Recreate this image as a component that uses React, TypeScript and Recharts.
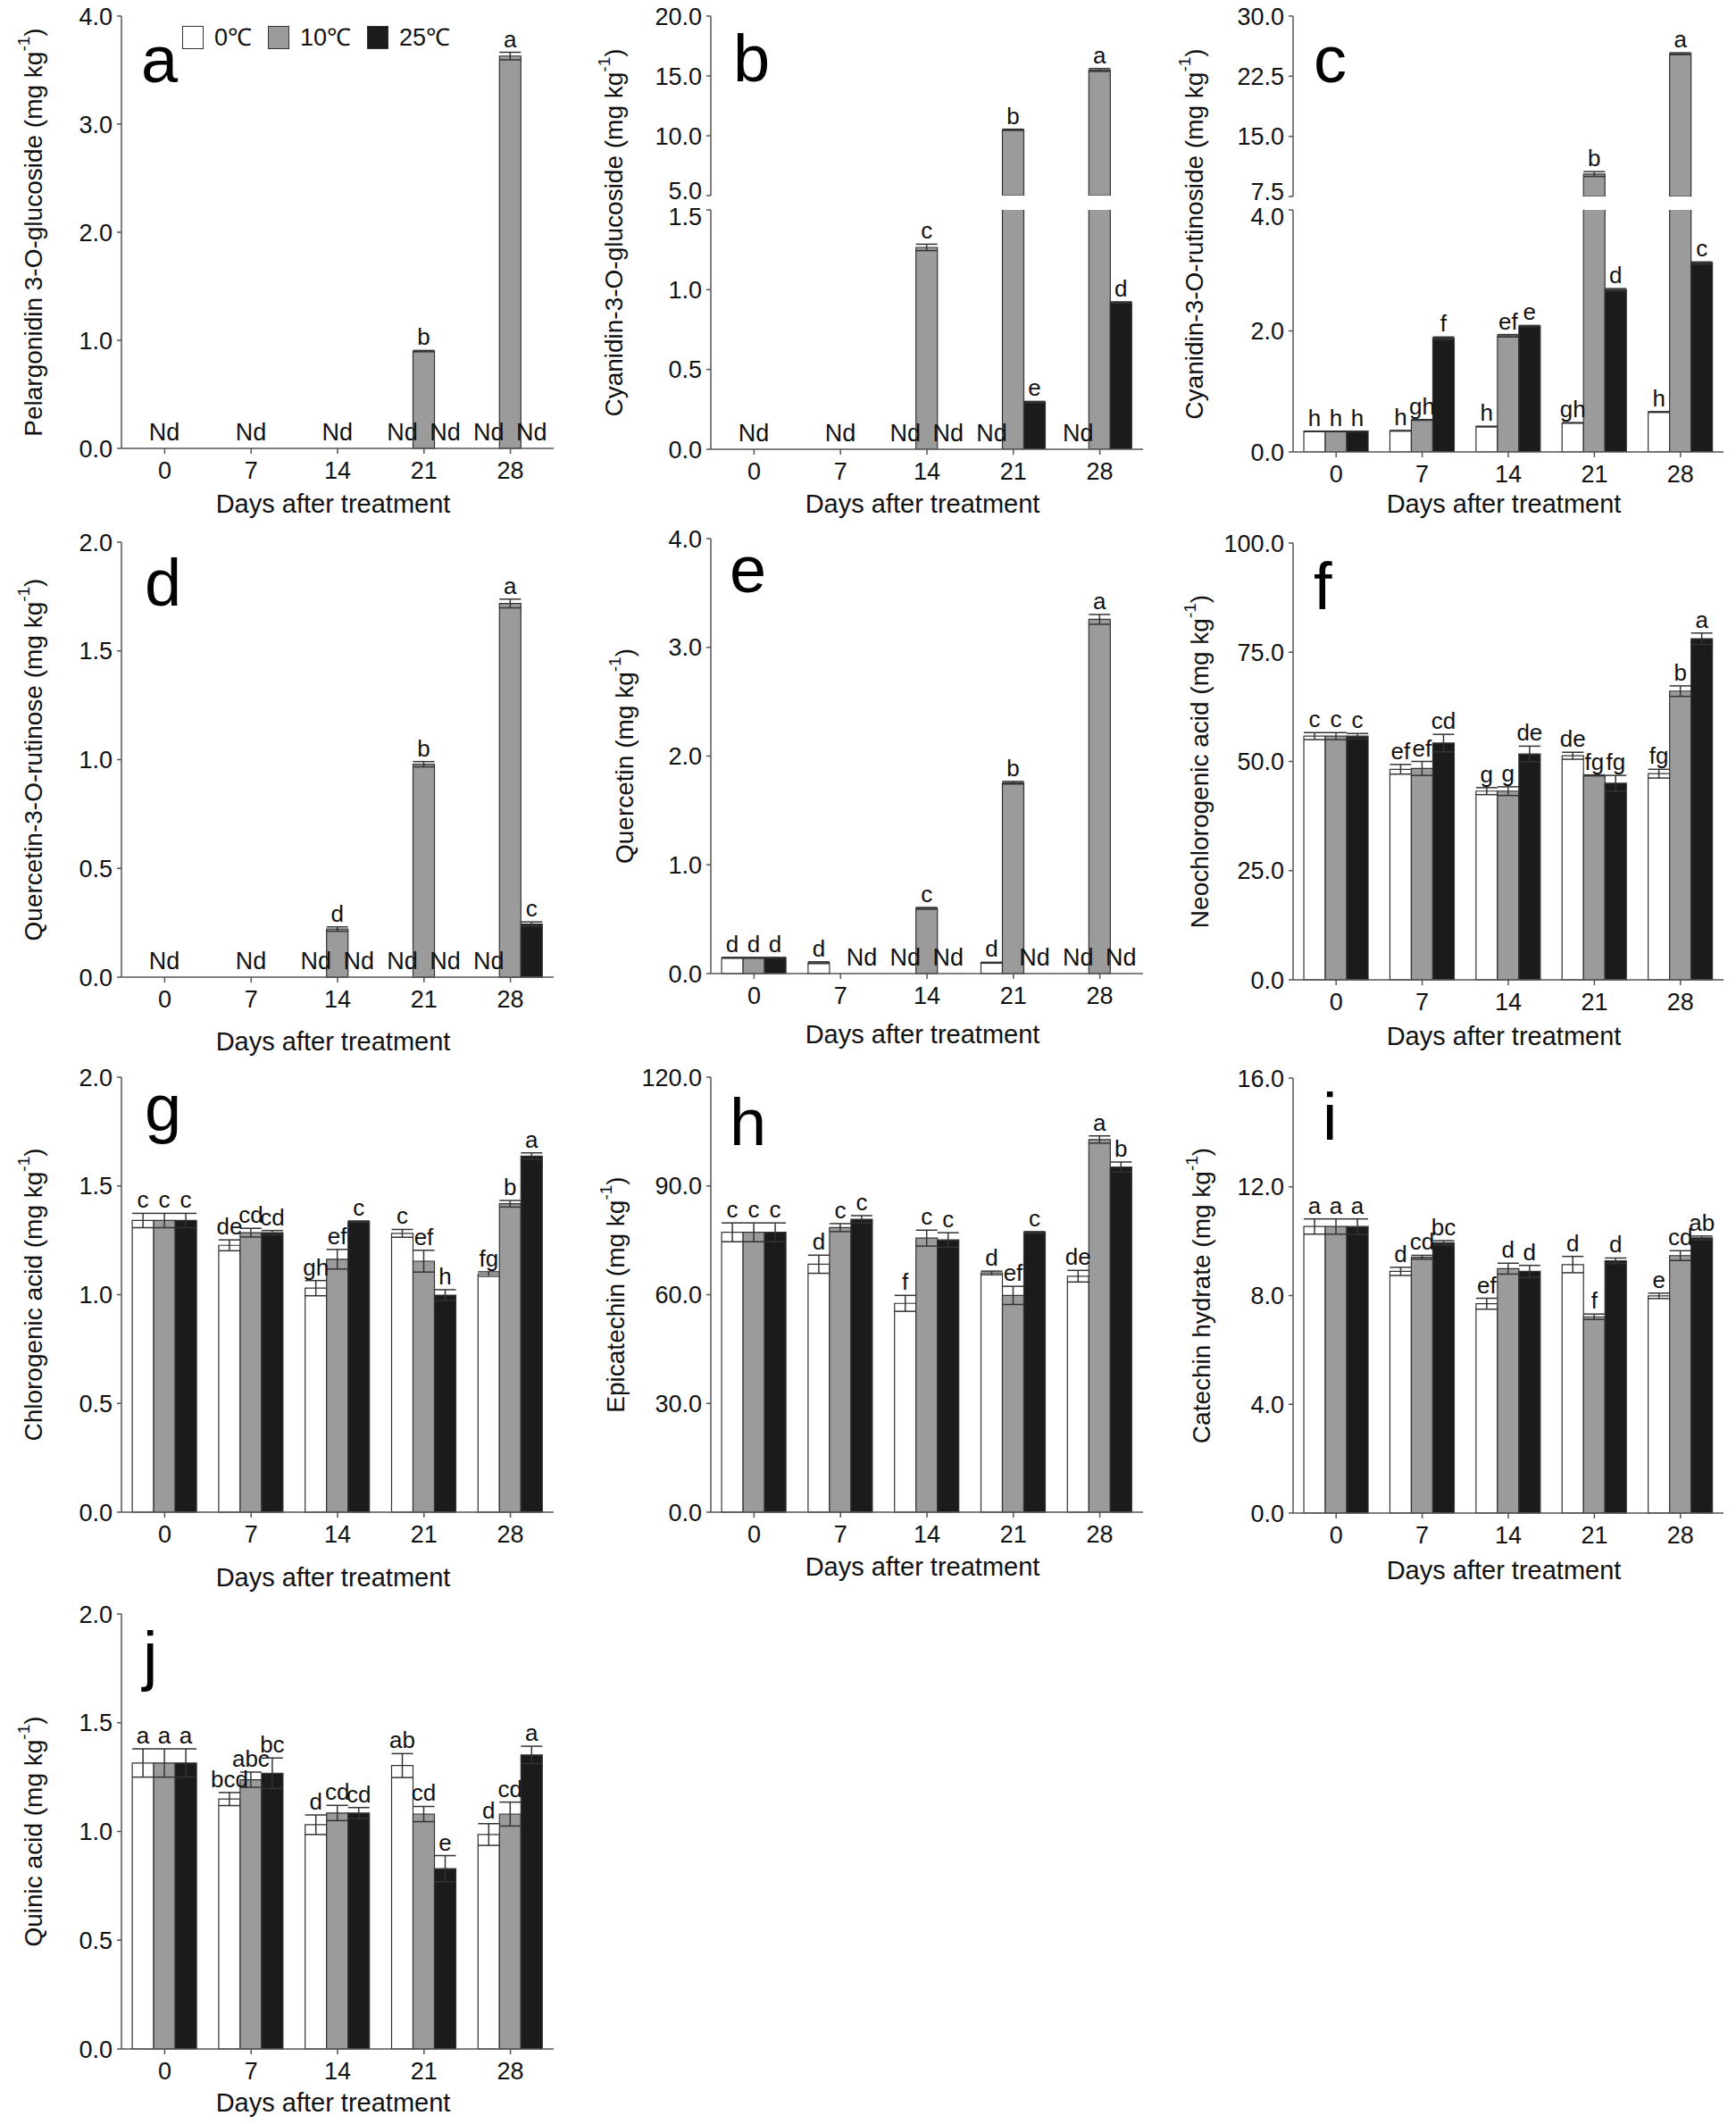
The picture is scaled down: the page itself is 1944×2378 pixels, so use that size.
import React from 'react';
import { BarChart, Bar, XAxis, YAxis, ErrorBar, LabelList, Legend, Cell } from 'recharts';

// ---------------- DATA ----------------
const days = ['0', '7', '14', '21', '28'];
const seriesNames = ['0℃', '10℃', '25℃'];

// a: Pelargonidin 3-O-glucoside
const aValues = [[0, 0, 0, 0, 0], [0, 0, 0, 0.9, 3.63], [0, 0, 0, 0, 0]];
const aErrors = [[0, 0, 0, 0, 0], [0, 0, 0, 0.006, 0.035], [0, 0, 0, 0, 0]];
const aLetters = [['', '', '', 'Nd', 'Nd'], ['Nd', 'Nd', 'Nd', 'b', 'a'], ['', '', '', 'Nd', 'Nd']];
const aTicks = [0, 1, 2, 3, 4];

// b: Cyanidin-3-O-glucoside (broken axis)
const bValues = [[0, 0, 0, 0, 0], [0, 0, 1.265, 10.5, 15.5], [0, 0, 0, 0.296, 0.92]];
const bErrors = [[0, 0, 0, 0, 0], [0, 0, 0.02, 0.05, 0.12], [0, 0, 0, 0.004, 0.004]];
const bLetters = [['', '', 'Nd', 'Nd', 'Nd'], ['Nd', 'Nd', 'c', 'b', 'a'], ['', '', 'Nd', 'e', 'd']];
const bTicksUpper = [5, 10, 15, 20];
const bTicksLower = [0, 0.5, 1, 1.5];

// c: Cyanidin-3-O-rutinoside (broken axis)
const cValues = [[0.34, 0.35, 0.42, 0.48, 0.66], [0.34, 0.53, 1.92, 10.3, 25.3], [0.34, 1.88, 2.08, 2.68, 3.12]];
const cErrors = [[0.004, 0.005, 0.005, 0.005, 0.006], [0.004, 0.006, 0.02, 0.3, 0.12], [0.004, 0.02, 0.01, 0.02, 0.02]];
const cLetters = [['h', 'h', 'h', 'gh', 'h'], ['h', 'gh', 'ef', 'b', 'a'], ['h', 'f', 'e', 'd', 'c']];
const cTicksUpper = [7.5, 15, 22.5, 30];
const cTicksLower = [0, 2, 4];

// d: Quercetin-3-O-rutinose
const dValues = [[0, 0, 0, 0, 0], [0, 0, 0.221, 0.979, 1.718], [0, 0, 0, 0, 0.244]];
const dErrors = [[0, 0, 0, 0, 0], [0, 0, 0.01, 0.012, 0.02], [0, 0, 0, 0, 0.01]];
const dLetters = [['', '', 'Nd', 'Nd', 'Nd'], ['Nd', 'Nd', 'd', 'b', 'a'], ['', '', 'Nd', 'Nd', 'c']];
const dTicks = [0, 0.5, 1, 1.5, 2];

// e: Quercetin
const eValues = [[0.145, 0.1, 0, 0.1, 0], [0.145, 0, 0.6, 1.755, 3.257], [0.145, 0, 0, 0, 0]];
const eErrors = [[0.004, 0.008, 0, 0.004, 0], [0.004, 0, 0.008, 0.012, 0.045], [0.004, 0, 0, 0, 0]];
const eLetters = [['d', 'd', 'Nd', 'd', 'Nd'], ['d', '', 'c', 'b', 'a'], ['d', 'Nd', 'Nd', 'Nd', 'Nd']];
const eTicks = [0, 1, 2, 3, 4];

// f: Neochlorogenic acid
const fValues = [[55.8, 48.2, 43.2, 51.3, 47.2], [55.8, 48.4, 43.2, 46.8, 66.1], [55.8, 54.2, 51.7, 45.0, 78.1]];
const fErrors = [[0.8, 1.1, 0.8, 0.8, 1.0], [0.8, 1.6, 1.0, 0.1, 1.2], [0.6, 2.0, 1.8, 1.8, 1.3]];
const fLetters = [['c', 'ef', 'g', 'de', 'fg'], ['c', 'ef', 'g', 'fg', 'b'], ['c', 'cd', 'de', 'fg', 'a']];
const fTicks = [0, 25, 50, 75, 100];

// g: Chlorogenic acid
const gValues = [[1.341, 1.227, 1.03, 1.282, 1.095], [1.341, 1.285, 1.163, 1.154, 1.418], [1.341, 1.285, 1.336, 0.998, 1.637]];
const gErrors = [[0.033, 0.025, 0.035, 0.018, 0.01], [0.033, 0.02, 0.045, 0.05, 0.015], [0.033, 0.01, 0.003, 0.025, 0.015]];
const gLetters = [['c', 'de', 'gh', 'c', 'fg'], ['c', 'cd', 'ef', 'ef', 'b'], ['c', 'cd', 'c', 'h', 'a']];
const gTicks = [0, 0.5, 1, 1.5, 2];

// h: Epicatechin
const hValues = [[77.2, 68.4, 57.6, 66.0, 65.1], [77.2, 78.5, 75.6, 59.8, 102.8], [77.2, 80.8, 75.1, 77.2, 95.2]];
const hErrors = [[2.6, 2.5, 2.2, 0.5, 1.6], [2.6, 1.1, 2.2, 2.5, 1.0], [2.6, 1.0, 2.0, 0.2, 1.4]];
const hLetters = [['c', 'd', 'f', 'd', 'de'], ['c', 'c', 'c', 'ef', 'a'], ['c', 'c', 'c', 'c', 'b']];
const hTicks = [0, 30, 60, 90, 120];

// i: Catechin hydrate
const iValues = [[10.54, 8.89, 7.7, 9.14, 7.99], [10.54, 9.41, 8.99, 7.22, 9.47], [10.54, 9.94, 8.89, 9.28, 10.12]];
const iErrors = [[0.28, 0.15, 0.2, 0.3, 0.1], [0.28, 0.07, 0.2, 0.1, 0.18], [0.28, 0.08, 0.22, 0.1, 0.07]];
const iLetters = [['a', 'd', 'ef', 'd', 'e'], ['a', 'cd', 'd', 'f', 'cd'], ['a', 'bc', 'd', 'd', 'ab']];
const iTicks = [0, 4, 8, 12, 16];

// j: Quinic acid
const jValues = [[1.315, 1.149, 1.031, 1.303, 0.986], [1.315, 1.238, 1.085, 1.08, 1.08], [1.315, 1.268, 1.085, 0.829, 1.352]];
const jErrors = [[0.065, 0.03, 0.045, 0.055, 0.05], [0.065, 0.035, 0.035, 0.035, 0.055], [0.065, 0.07, 0.025, 0.06, 0.04]];
const jLetters = [['a', 'bcd', 'd', 'ab', 'd'], ['a', 'abc', 'cd', 'cd', 'cd'], ['a', 'bc', 'cd', 'e', 'a']];
const jTicks = [0, 0.5, 1, 1.5, 2];

// ---------------- STYLE / LAYOUT ----------------
const FONT = "'Liberation Sans', Arial, Helvetica, sans-serif";
const fills = ['#ffffff', '#9b9b9b', '#1b1b1b'];
const AX = '#555555';
const TXT = '#111111';
const ML = 136;
const MR = 14;
const MT = 18;
const MB = 95;

type Section = { kind: 'full' | 'upper' | 'lower'; top: number; bottom: number; min: number; max: number; ticks: number[] };
type PanelCfg = {
  letter: string; title: string; values: number[][]; errors: number[][]; letters: string[][];
  left: number; width: number; sections: Section[]; yTitleX: number; xTitleY: number;
  letterX: number; letterY: number; legend?: boolean;
};

const panels: PanelCfg[] = [
  { letter: 'a', title: 'Pelargonidin 3-O-glucoside', values: aValues, errors: aErrors, letters: aLetters,
    left: 136, width: 484, sections: [{ kind: 'full', top: 18, bottom: 502, min: 0, max: 4, ticks: aTicks }],
    yTitleX: 37, xTitleY: 564, letterX: 158, letterY: 92, legend: true },
  { letter: 'b', title: 'Cyanidin-3-O-glucoside', values: bValues, errors: bErrors, letters: bLetters,
    left: 796, width: 484, sections: [
      { kind: 'upper', top: 18, bottom: 219, min: 5, max: 20, ticks: bTicksUpper },
      { kind: 'lower', top: 235, bottom: 503, min: 0, max: 1.5, ticks: bTicksLower }],
    yTitleX: 687, xTitleY: 564, letterX: 821, letterY: 91 },
  { letter: 'c', title: 'Cyanidin-3-O-rutinoside', values: cValues, errors: cErrors, letters: cLetters,
    left: 1448, width: 482, sections: [
      { kind: 'upper', top: 18, bottom: 220, min: 7.5, max: 30, ticks: cTicksUpper },
      { kind: 'lower', top: 235, bottom: 506, min: 0, max: 4, ticks: cTicksLower }],
    yTitleX: 1337, xTitleY: 564, letterX: 1471, letterY: 92 },
  { letter: 'd', title: 'Quercetin-3-O-rutinose', values: dValues, errors: dErrors, letters: dLetters,
    left: 136, width: 484, sections: [{ kind: 'full', top: 607, bottom: 1094, min: 0, max: 2, ticks: dTicks }],
    yTitleX: 37, xTitleY: 1166, letterX: 162, letterY: 678 },
  { letter: 'e', title: 'Quercetin', values: eValues, errors: eErrors, letters: eLetters,
    left: 796, width: 484, sections: [{ kind: 'full', top: 603, bottom: 1090, min: 0, max: 4, ticks: eTicks }],
    yTitleX: 699, xTitleY: 1158, letterX: 817, letterY: 663 },
  { letter: 'f', title: 'Neochlorogenic acid', values: fValues, errors: fErrors, letters: fLetters,
    left: 1448, width: 482, sections: [{ kind: 'full', top: 608, bottom: 1097, min: 0, max: 100, ticks: fTicks }],
    yTitleX: 1343, xTitleY: 1160, letterX: 1471, letterY: 682 },
  { letter: 'g', title: 'Chlorogenic acid', values: gValues, errors: gErrors, letters: gLetters,
    left: 136, width: 484, sections: [{ kind: 'full', top: 1206, bottom: 1693, min: 0, max: 2, ticks: gTicks }],
    yTitleX: 37, xTitleY: 1766, letterX: 162, letterY: 1266 },
  { letter: 'h', title: 'Epicatechin', values: hValues, errors: hErrors, letters: hLetters,
    left: 796, width: 484, sections: [{ kind: 'full', top: 1206, bottom: 1693, min: 0, max: 120, ticks: hTicks }],
    yTitleX: 689, xTitleY: 1754, letterX: 817, letterY: 1282 },
  { letter: 'i', title: 'Catechin hydrate', values: iValues, errors: iErrors, letters: iLetters,
    left: 1448, width: 482, sections: [{ kind: 'full', top: 1207, bottom: 1694, min: 0, max: 16, ticks: iTicks }],
    yTitleX: 1345, xTitleY: 1758, letterX: 1481, letterY: 1276 },
  { letter: 'j', title: 'Quinic acid', values: jValues, errors: jErrors, letters: jLetters,
    left: 136, width: 484, sections: [{ kind: 'full', top: 1807, bottom: 2294, min: 0, max: 2, ticks: jTicks }],
    yTitleX: 37, xTitleY: 2354, letterX: 160, letterY: 1879 },
];

const makeYTick = (s: Section) => (props: any) => {
  const { x, y, payload } = props;
  const v = payload.value as number;
  let shift = 0;
  if (s.kind === 'upper' && v === s.min) shift = -6;
  if (s.kind === 'lower' && v === s.max) shift = 7;
  return (
    <text x={x} y={y + shift} dy="0.355em" textAnchor="end" fontSize={27} fill={TXT} fontFamily={FONT}>
      {v.toFixed(1)}
    </text>
  );
};

const makeLabel = (ppu: number) => (props: any) => {
  const vb = props.viewBox;
  const val = props.value;
  if (!vb || !val || !val.show || !val.text) return null;
  const cx = vb.x + vb.width / 2;
  if (val.text === 'Nd') {
    return (
      <text x={cx} y={vb.y + vb.height - 9} textAnchor="middle" fontSize={27} fill={TXT} fontFamily={FONT}>Nd</text>
    );
  }
  const top = Math.min(vb.y, vb.y + vb.height);
  return (
    <text x={cx} y={top - (val.err || 0) * ppu - 6} textAnchor="middle" fontSize={26} fill={TXT} fontFamily={FONT}>
      {val.text}
    </text>
  );
};

const legendContent = (props: any) => (
  <div style={{ display: 'flex', alignItems: 'center', fontFamily: FONT }}>
    {(props.payload || []).map((it: any, i: number) => (
      <div key={i} style={{ display: 'flex', alignItems: 'center', marginRight: 18 }}>
        <div style={{ width: 24, height: 26, background: it.color, border: '1.5px solid #333', boxSizing: 'border-box' }} />
        <span style={{ marginLeft: 12, fontSize: 27, color: TXT, lineHeight: '26px' }}>{it.value}</span>
      </div>
    ))}
  </div>
);

function Panel({ p }: { p: PanelCfg }) {
  const first = p.sections[0];
  const last = p.sections[p.sections.length - 1];
  const svgLeft = p.left - ML;
  const svgTop = first.top - MT;
  const svgBottom = last.bottom + MB;
  const W = ML + p.width + MR;
  const H = svgBottom - svgTop;

  const yTitle = () => {
    const tx = p.yTitleX - svgLeft;
    const ty = (first.top + last.bottom) / 2 - svgTop;
    return (
      <g>
        <text transform={`rotate(-90 ${tx} ${ty})`} x={tx} y={ty} textAnchor="middle" dominantBaseline="central"
          fontSize={28} fill={TXT} fontFamily={FONT}>
          {p.title + ' (mg kg'}
          <tspan fontSize={19} dy={-11}>-1</tspan>
          <tspan fontSize={28} dy={11}>)</tspan>
        </text>
        <text x={p.letterX - svgLeft} y={p.letterY - svgTop} fontSize={74} fill="#000" fontFamily={FONT}>{p.letter}</text>
      </g>
    );
  };
  const xTitle = () => (
    <text x={p.left + p.width / 2 - 5 - svgLeft} y={p.xTitleY + 10 - svgTop} textAnchor="middle" fontSize={29}
      fill={TXT} fontFamily={FONT}>Days after treatment</text>
  );

  return (
    <>
      {p.sections.map((s, si) => {
        const isFirst = si === 0;
        const isLast = si === p.sections.length - 1;
        const ppu = (s.bottom - s.top) / (s.max - s.min);
        const ndMask = [0, 1, 2].map((k) =>
          days.map((_, i) => s.kind !== 'upper' && p.values[k][i] === 0 && p.letters[k][i] === 'Nd'));
        const rows = days.map((d, i) => {
          const r: any = { day: d };
          [0, 1, 2].forEach((k) => {
            const v = p.values[k][i];
            const visible = s.kind === 'upper' ? v >= s.min : v <= s.max;
            r['v' + k] = s.kind === 'upper' ? Math.max(v, s.min) : v;
            r['e' + k] = v > 0 && visible ? p.errors[k][i] : undefined;
            r['l' + k] = { text: p.letters[k][i], show: visible, err: p.errors[k][i] };
          });
          return r;
        });
        const hasBottom = s.kind !== 'upper';
        const marginTop = s.top - svgTop;
        const marginBottom = svgBottom - s.bottom - (hasBottom ? MB : 0);
        return (
          <div key={si} style={{ position: 'absolute', left: svgLeft, top: svgTop }}>
            <BarChart width={W} height={H} data={rows}
              margin={{ top: marginTop, right: MR, bottom: marginBottom, left: 0 }}
              barCategoryGap="12.5%" barGap={0}>
              {hasBottom ? (
                <XAxis dataKey="day" height={MB} interval={0} tickSize={6} tickMargin={9}
                  tick={{ fontSize: 27, fill: TXT, fontFamily: FONT }}
                  tickLine={{ stroke: AX, strokeWidth: 1.5 }} axisLine={{ stroke: AX, strokeWidth: 1.5 }}
                  label={isLast ? { content: xTitle } : undefined} />
              ) : (
                <XAxis dataKey="day" orientation="top" height={0} tick={false} tickLine={false}
                  axisLine={{ stroke: AX, strokeWidth: 1.5 }} />
              )}
              {s.kind === 'full' && (
                <XAxis xAxisId="top" dataKey="day" orientation="top" height={0} tick={false} tickLine={false}
                  axisLine={{ stroke: AX, strokeWidth: 1.5 }} />
              )}
              <YAxis type="number" domain={[s.min, s.max]} ticks={s.ticks} interval={0}
                allowDataOverflow={s.kind !== 'full'} width={ML} tickSize={5} tickMargin={5}
                tick={makeYTick(s)} tickLine={{ stroke: AX, strokeWidth: 1.5 }}
                axisLine={{ stroke: AX, strokeWidth: 1.5 }}
                label={isFirst ? { content: yTitle } : undefined} />
              <YAxis yAxisId="right" orientation="right" type="number" domain={[0, 1]} width={0}
                tick={false} tickLine={false} axisLine={{ stroke: AX, strokeWidth: 1.5 }} />
              {[0, 1, 2].map((k) => (
                <Bar key={k} dataKey={'v' + k} name={seriesNames[k]} fill={fills[k]} stroke="#333"
                  strokeWidth={1.2} isAnimationActive={false} legendType="square"
                  minPointSize={(_v: any, index: number) => (ndMask[k][index] ? 0.6 : 0)}>
                  {rows.map((_r, i) => (
                    <Cell key={i} fill={ndMask[k][i] ? 'none' : fills[k]} stroke={ndMask[k][i] ? 'none' : '#333'} />
                  ))}
                  <ErrorBar dataKey={'e' + k} width={12} stroke="#333" strokeWidth={1.5} direction="y" />
                  <LabelList dataKey={'l' + k} content={makeLabel(ppu)} />
                </Bar>
              ))}
              {p.legend && isFirst && (
                <Legend layout="vertical" verticalAlign="middle" align="center" content={legendContent}
                  wrapperStyle={{ left: 204 - svgLeft, top: 29 - svgTop, width: 430, height: 30 }} />
              )}
            </BarChart>
          </div>
        );
      })}
    </>
  );
}

export default function App() {
  return (
    <div style={{ position: 'absolute', left: 0, top: 0, width: 1944, height: 2378, overflow: 'hidden', background: '#fff', fontFamily: FONT }}>
      {panels.map((p) => <Panel key={p.letter} p={p} />)}
    </div>
  );
}
